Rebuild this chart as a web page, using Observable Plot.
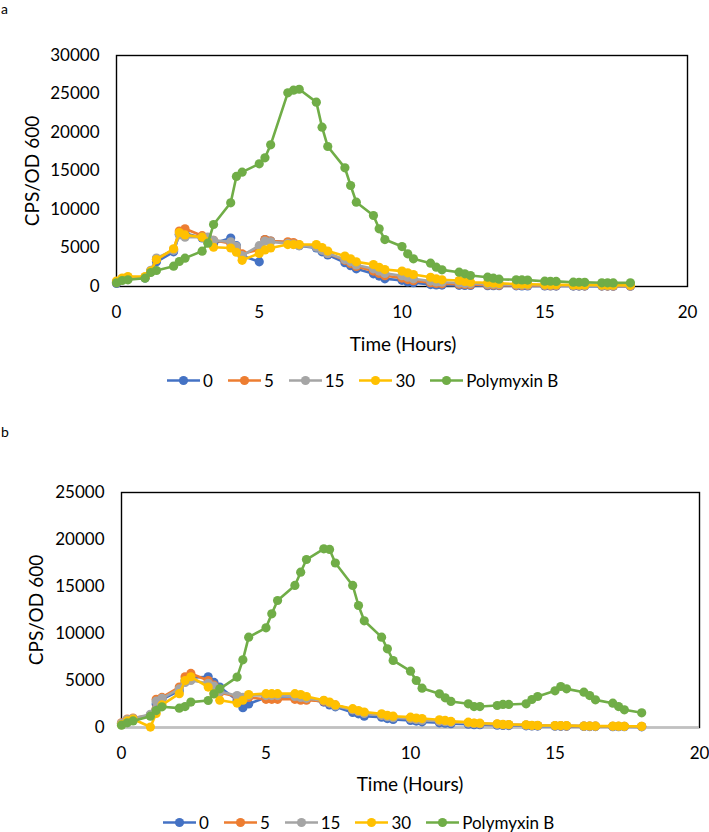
<!DOCTYPE html>
<html>
<head>
<meta charset="utf-8">
<script src="https://cdn.jsdelivr.net/npm/d3@7"></script>
<script src="https://cdn.jsdelivr.net/npm/@observablehq/plot@0.6"></script>
<style>
  html, body { margin: 0; padding: 0; background: #fff; }
  #root { position: relative; width: 709px; height: 832px; font-family: Lato, "Open Sans", sans-serif; color: #000; overflow: hidden; }
  .panel { position: absolute; left: 0; }
  .ytitle { position: absolute; font-size: 19px; transform: translate(-50%, -50%) rotate(-90deg); white-space: nowrap; }
  .xtitle { position: absolute; font-size: 19px; transform: translate(-50%, -50%); white-space: nowrap; }
  .legend { position: absolute; display: flex; align-items: center; font-size: 17px; transform: translateY(-50%); }
  .legend .item { display: flex; align-items: center; margin-right: 15px; }
  .legend svg { display: block; margin-right: 3px; }
  .tag { position: absolute; font-size: 14px; line-height: 16px; }
</style>
</head>
<body>
<div id="root"></div>
<script>
// ---- data ----
const seriesNames = ["0", "5", "15", "30", "Polymyxin B"];
const seriesColors = ["#4472C4", "#ED7D31", "#A5A5A5", "#FFC000", "#70AD47"];

const time = [0, 0.2, 0.4, 1, 1.2, 1.4, 2, 2.2, 2.4, 3, 3.2, 3.4, 4, 4.2, 4.4, 5, 5.2, 5.4,
  6, 6.2, 6.4, 7, 7.2, 7.4, 8, 8.2, 8.4, 9, 9.2, 9.4, 10, 10.2, 10.4, 11, 11.2, 11.4,
  12, 12.2, 12.4, 13, 13.2, 13.4, 14, 14.2, 14.4, 15, 15.2, 15.4, 16, 16.2, 16.4, 17, 17.2, 17.4, 18];

const xTicks = [0, 5, 10, 15, 20];
const yTicksA = [0, 5000, 10000, 15000, 20000, 25000, 30000];
const yTicksB = [0, 5000, 10000, 15000, 20000, 25000];

// Panel a
const a0 = [400, 900, 1100, 1100, 1900, 3200, 4500, 6800, 6900, 6300, 6000, 5600, 6300, 5300, 4000, 3200, 6100, 5900,
  5700, 5600, 5300, 5000, 4500, 4100, 3100, 2700, 2300, 1650, 1350, 1000, 800, 600, 500, 250, 200, 180,
  150, 140, 130, 110, 100, 100, 90, 80, 80, 70, 70, 60, 60, 50, 50, 50, 50, 40, 40];
const a5 = [500, 1000, 1200, 1200, 2000, 3500, 4800, 7200, 7500, 6600, 6300, 6000, 5600, 5000, 4250, 4800, 6100, 5900,
  5800, 5700, 5400, 5200, 4800, 4300, 3400, 3000, 2600, 2000, 1700, 1400, 1100, 900, 750, 500, 400, 350,
  300, 260, 240, 200, 180, 170, 150, 140, 130, 120, 110, 110, 100, 100, 90, 90, 80, 80, 70];
const a15 = [600, 1000, 1200, 1200, 2100, 3700, 4700, 6700, 6400, 6400, 6400, 6000, 5800, 5200, 4000, 5300, 5900, 5800,
  5600, 5500, 5300, 5100, 4700, 4300, 3500, 3200, 2800, 2300, 2000, 1700, 1400, 1200, 1000, 700, 600, 550,
  450, 400, 380, 300, 280, 260, 220, 200, 190, 170, 160, 150, 130, 120, 120, 110, 100, 100, 90];
const a30 = [700, 1100, 1300, 1300, 2000, 3500, 4900, 7000, 6700, 6400, 5800, 5100, 5000, 4450, 3400, 4300, 4750, 5000,
  5450, 5450, 5450, 5450, 5050, 4600, 3950, 3600, 3200, 2850, 2500, 2200, 2000, 1780, 1560, 1200, 1000, 870,
  780, 650, 560, 480, 430, 400, 330, 300, 290, 250, 240, 230, 210, 200, 200, 180, 170, 170, 150];
const aPoly = [480, 780, 870, 1080, 1820, 2080, 2640, 3250, 3680, 4590, 5630, 8050, 10870, 14290, 14850, 15930, 16710, 18400,
  25150, 25500, 25620, 23940, 20690, 18180, 15410, 13120, 10950, 9220, 7490, 6100, 5190, 4250, 3590, 3030, 2510, 2160,
  1860, 1650, 1430, 1210, 1080, 950, 870, 850, 830, 690, 680, 660, 560, 550, 540, 480, 480, 470, 480];

// Panel b
const b0 = [400, 800, 900, 1300, 2500, 3000, 3900, 5000, 5300, 5400, 4800, 4300, 2900, 2100, 2500, 3200, 3300, 3300,
  3300, 3200, 3100, 2700, 2400, 2200, 1600, 1450, 1200, 1100, 950, 850, 750, 680, 600, 500, 450, 400,
  350, 300, 290, 250, 220, 210, 180, 160, 150, 140, 130, 120, 110, 100, 100, 90, 80, 80, 70];
const b5 = [500, 900, 1000, 1300, 3000, 3200, 4300, 5400, 5750, 5000, 4500, 3700, 3300, 3000, 3200, 3000, 3000, 3000,
  3000, 2900, 2900, 2800, 2600, 2400, 1900, 1700, 1550, 1300, 1200, 1100, 950, 900, 800, 700, 650, 580,
  500, 430, 410, 350, 300, 290, 260, 210, 200, 190, 180, 170, 150, 140, 140, 130, 120, 120, 110];
const b15 = [450, 850, 950, 1400, 2800, 3100, 4100, 4800, 5000, 4700, 4400, 3800, 3400, 3200, 3400, 3400, 3400, 3400,
  3300, 3200, 3100, 2850, 2600, 2300, 1900, 1700, 1500, 1300, 1150, 1050, 950, 850, 780, 680, 620, 560,
  480, 420, 400, 340, 300, 280, 250, 210, 200, 180, 175, 170, 150, 140, 140, 130, 120, 110, 100];
const b30 = [300, 700, 900, 50, 1500, 2400, 3600, 5000, 5400, 4300, 3600, 2900, 2600, 2900, 3500, 3600, 3600, 3600,
  3600, 3500, 3300, 2900, 2700, 2400, 2000, 1800, 1650, 1450, 1300, 1200, 1100, 1000, 950, 820, 750, 650,
  570, 480, 460, 400, 330, 320, 290, 230, 220, 210, 210, 200, 160, 160, 150, 150, 140, 130, 120];
const bPoly = [250, 500, 700, 1200, 1800, 2200, 2060, 2230, 2700, 2870, 3580, 4110, 5360, 7200, 9610, 10600, 12090, 13510,
  15110, 16520, 17870, 19010, 18940, 17500, 15110, 12980, 11350, 9610, 8370, 7130, 5990, 5000, 4180, 3580, 3160, 2770,
  2520, 2230, 2230, 2340, 2450, 2450, 2520, 2980, 3300, 3900, 4360, 4110, 3760, 3400, 2940, 2590, 2230, 1880, 1560];

// ---- build ----
function longForm(arrs) {
  const out = [];
  arrs.forEach((arr, si) => arr.forEach((v, i) => out.push({series: seriesNames[si], t: time[i], v})));
  return out;
}

function seriesMarks(data) {
  const marks = [];
  seriesNames.forEach((name, si) => {
    const d = data.filter(r => r.series === name);
    marks.push(Plot.line(d, {x: "t", y: "v", stroke: seriesColors[si], strokeWidth: 2.6, strokeLinejoin: "round"}));
    marks.push(Plot.dot(d, {x: "t", y: "v", r: 4.6, fill: seriesColors[si], stroke: "none"}));
  });
  return marks;
}

function makePanel(data, yTicks, opts) {
  return Plot.plot({
    width: 709,
    height: opts.height,
    marginTop: opts.mt,
    marginBottom: opts.mb,
    marginLeft: opts.ml,
    marginRight: opts.mr,
    style: {fontFamily: "Lato, 'Open Sans', sans-serif", fontSize: "17px", color: "#000", background: "transparent", overflow: "visible"},
    x: {domain: [0, 20], ticks: xTicks, tickSize: 0, tickPadding: 19, label: null, tickFormat: d3.format("d")},
    y: {domain: [0, yTicks[yTicks.length - 1]], ticks: yTicks, tickSize: 0, tickPadding: opts.yPad, label: null, tickFormat: d3.format("d")},
    marks: [
      Plot.frame({stroke: "#000", strokeWidth: 1.4}),
      ...(opts.grayBase ? [Plot.ruleY([0], {stroke: "#c0c0c0", strokeWidth: 1.8})] : []),
      ...seriesMarks(data)
    ]
  });
}

function legend(left, top) {
  const div = document.createElement("div");
  div.className = "legend";
  div.style.left = left + "px";
  div.style.top = top + "px";
  seriesNames.forEach((name, si) => {
    const item = document.createElement("div");
    item.className = "item";
    const svg = `<svg width="33" height="12"><line x1="0" y1="6" x2="33" y2="6" stroke="${seriesColors[si]}" stroke-width="2.6"/><circle cx="16.5" cy="6" r="4.6" fill="${seriesColors[si]}"/></svg>`;
    item.innerHTML = svg + `<span>${name}</span>`;
    div.appendChild(item);
  });
  return div;
}

const root = document.getElementById("root");

// Panel a
const tagA = document.createElement("div");
tagA.className = "tag"; tagA.textContent = "a"; tagA.style.left = "1px"; tagA.style.top = "1px";
root.appendChild(tagA);

const pa = makePanel(longForm([a0, a5, a15, a30, aPoly]), yTicksA, {height: 330, mt: 55, mb: 44, ml: 116, mr: 22, yPad: 17});
pa.classList.add("panel"); pa.style.top = "0px";
root.appendChild(pa);

const ya = document.createElement("div");
ya.className = "ytitle"; ya.textContent = "CPS/OD 600"; ya.style.left = "31px"; ya.style.top = "171px";
root.appendChild(ya);
const xa = document.createElement("div");
xa.className = "xtitle"; xa.textContent = "Time (Hours)"; xa.style.left = "403px"; xa.style.top = "343px";
root.appendChild(xa);
root.appendChild(legend(167, 380));

// Panel b
const tagB = document.createElement("div");
tagB.className = "tag"; tagB.textContent = "b"; tagB.style.left = "1px"; tagB.style.top = "424px";
root.appendChild(tagB);

const pb = makePanel(longForm([b0, b5, b15, b30, bPoly]), yTicksB, {height: 340, mt: 72, mb: 33, ml: 121, mr: 10, yPad: 17, grayBase: true});
pb.classList.add("panel"); pb.style.top = "420px";
root.appendChild(pb);

const yb = document.createElement("div");
yb.className = "ytitle"; yb.textContent = "CPS/OD 600"; yb.style.left = "35px"; yb.style.top = "610px";
root.appendChild(yb);
const xb = document.createElement("div");
xb.className = "xtitle"; xb.textContent = "Time (Hours)"; xb.style.left = "410px"; xb.style.top = "783px";
root.appendChild(xb);
root.appendChild(legend(163, 822));
</script>
</body>
</html>
